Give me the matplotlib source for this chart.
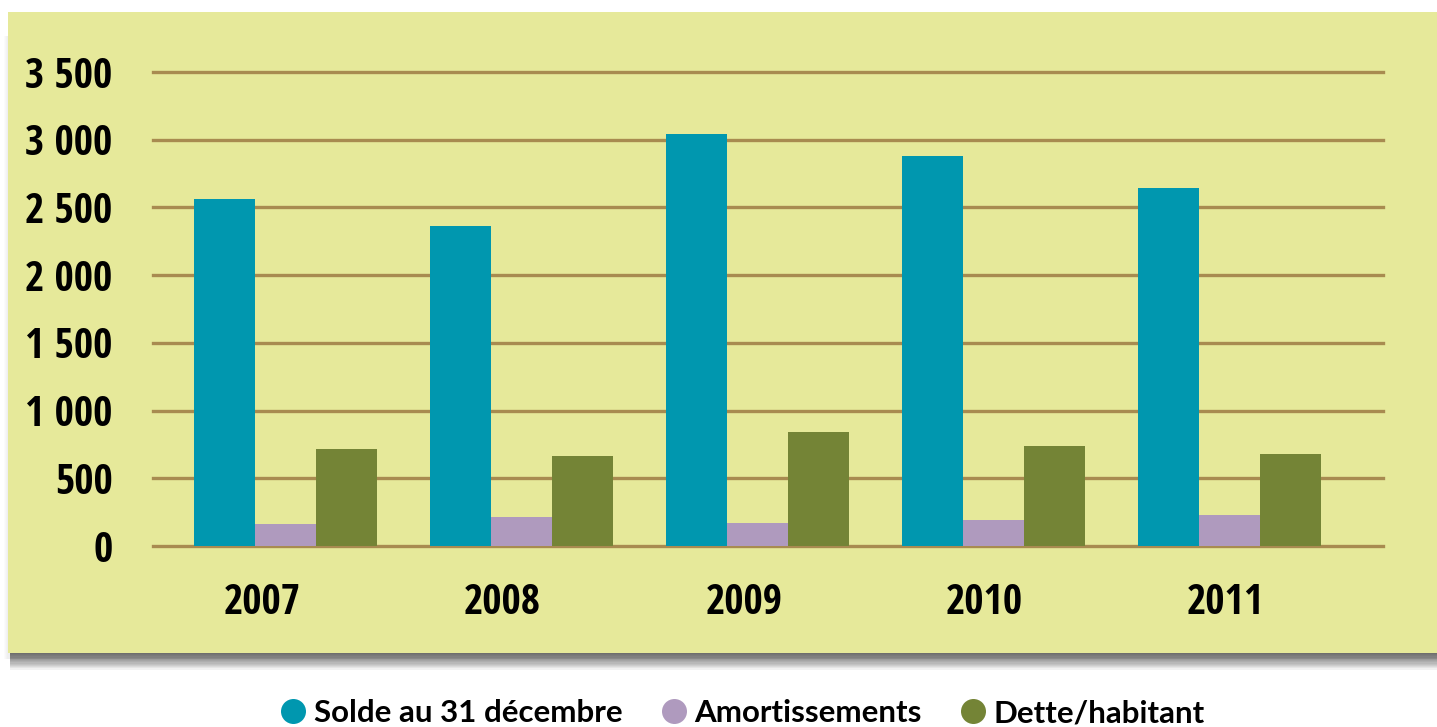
import matplotlib
matplotlib.use("Agg")
import matplotlib.pyplot as plt
import numpy as np
from matplotlib.patches import Rectangle
from matplotlib.lines import Line2D
from matplotlib.ticker import FuncFormatter

years = ["2007", "2008", "2009", "2010", "2011"]
solde = [2560, 2365, 3045, 2880, 2640]
amortissements = [160, 212, 170, 192, 228]
dette_habitant = [715, 665, 842, 740, 680]
series_names = ["Solde au 31 décembre", "Amortissements", "Dette/habitant"]
colors = ["#0097AF", "#AF9ABE", "#748436"]
yticks = [0, 500, 1000, 1500, 2000, 2500, 3000, 3500]

plt.rcParams['font.family'] = ['Open Sans Condensed', 'DejaVu Sans']
plt.rcParams['font.weight'] = 'bold'

W, H = 1437, 727
fig = plt.figure(figsize=(W / 100, H / 100), dpi=100, facecolor="white")

# panel shadow (soft, below)
for k in range(14):
    off = 1 + k * 1.2
    fig.patches.append(Rectangle(((8 + 2) / W, (727 - 653 - off) / H), (W - 10) / W, (653 - 20) / H,
                                 transform=fig.transFigure, facecolor="black",
                                 alpha=0.05, edgecolor="none", zorder=0))
for k in range(4):
    fig.patches.append(Rectangle(((8 - 1 - k) / W, (727 - 653 - 6) / H), (W) / W, (653 - 30) / H,
                                 transform=fig.transFigure, facecolor="black",
                                 alpha=0.015, edgecolor="none", zorder=0))
panel_bg = "#E6E99A"
fig.patches.append(Rectangle((8 / W, (727 - 653) / H), (W - 8) / W, (653 - 12) / H,
                             transform=fig.transFigure, facecolor=panel_bg,
                             edgecolor="none", zorder=1))

ax = fig.add_axes([153 / W, (727 - 546) / H, (1383 - 153) / W, (546 - 72) / H])
ax.set_facecolor("none")
ax.set_zorder(2)

x = np.arange(len(years))
bw = 0.258
data = [solde, amortissements, dette_habitant]
for i, (vals, c) in enumerate(zip(data, colors)):
    ax.bar(x + (i - 1) * bw, vals, width=bw, color=c, zorder=3, linewidth=0)

ax.set_ylim(0, 3500)
ax.set_xlim(-0.561, 4.65)
ax.set_yticks(yticks)
ax.yaxis.set_major_formatter(FuncFormatter(lambda v, p: f"{int(v):,}".replace(",", " ")))
ax.set_xticks(x * 1.021 - 0.1)
ax.set_xticklabels(years)
ax.grid(axis="y", color="#A88B50", linewidth=2.4, zorder=1)
for gl in ax.get_ygridlines():
    gl.set_clip_on(False)
ax.set_axisbelow(True)
for s in ax.spines.values():
    s.set_visible(False)
ax.tick_params(axis="y", length=0, pad=29, labelsize=30)
ax.tick_params(axis="x", length=0, pad=27, labelsize=30)
for lab in ax.get_xticklabels() + ax.get_yticklabels():
    lab.set_fontweight("bold")

handles = [Line2D([], [], marker="o", linestyle="none", markersize=18,
                  markerfacecolor=c, markeredgecolor="none") for c in colors]
leg = fig.legend(handles, series_names, loc="center", bbox_to_anchor=(742 / W, (727 - 713) / H),
                 ncol=3, frameon=False, handletextpad=0.2,
                 columnspacing=1.2, handlelength=0.9, borderpad=0,
                 prop={"family": ["Lato", "DejaVu Sans"], "weight": "bold", "size": 22.5})

fig.savefig("out.png", dpi=100, facecolor="white")
